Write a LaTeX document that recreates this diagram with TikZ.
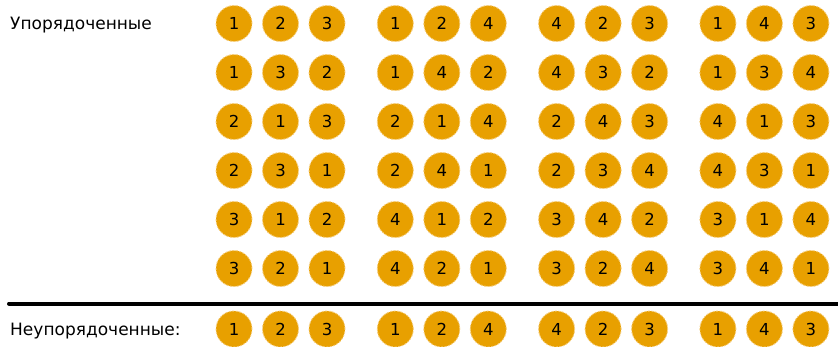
\documentclass[tikz,border=0pt]{standalone}
\usepackage{fontspec}
\setmainfont{DejaVu Sans}
\definecolor{ballfill}{HTML}{E8A000}
\definecolor{ballrim}{HTML}{F6CD7A}
\begin{document}
\begin{tikzpicture}[x=1pt,y=-1pt,
  ball/.style={circle,fill=ballfill,draw=ballrim,line width=0.9pt,dash pattern=on 2pt off 1.5pt,minimum size=36pt,inner sep=0pt,font=\fontsize{16.5}{16.5}\selectfont},
  lbl/.style={anchor=base west,inner sep=0pt,font=\fontsize{17}{17}\selectfont}]
\useasboundingbox (0,0) rectangle (838,346);
\node[lbl] (ordered) at (10,29.3) {Упорядоченные};
\node[lbl] (unordered) at (10,335) {Неупорядоченные:};
\coordinate (lineL) at (9,303.5);
\coordinate (lineR) at (840,303.5);
\draw[line width=4pt,line cap=round] (lineL) -- (lineR);
\foreach \ri/\ry/\digits in {
 1/23.5/{1,2,3,1,2,4,4,2,3,1,4,3},
 2/72.5/{1,3,2,1,4,2,4,3,2,1,3,4},
 3/121.5/{2,1,3,2,1,4,2,4,3,4,1,3},
 4/170.5/{2,3,1,2,4,1,2,3,4,4,3,1},
 5/219.5/{3,1,2,4,1,2,3,4,2,3,1,4},
 6/268.5/{3,2,1,4,2,1,3,2,4,3,4,1},
 7/329/{1,2,3,1,2,4,4,2,3,1,4,3}}{
  \foreach \n [count=\k from 0] in \digits {
    \pgfmathtruncatemacro{\grp}{div(\k,3)}
    \pgfmathtruncatemacro{\pos}{mod(\k,3)}
    \pgfmathsetmacro{\bx}{234+161.3*\grp+46.5*\pos}
    \node[ball] (b\ri-\k) at (\bx,\ry) {\n};
  }
}
\end{tikzpicture}
\end{document}
